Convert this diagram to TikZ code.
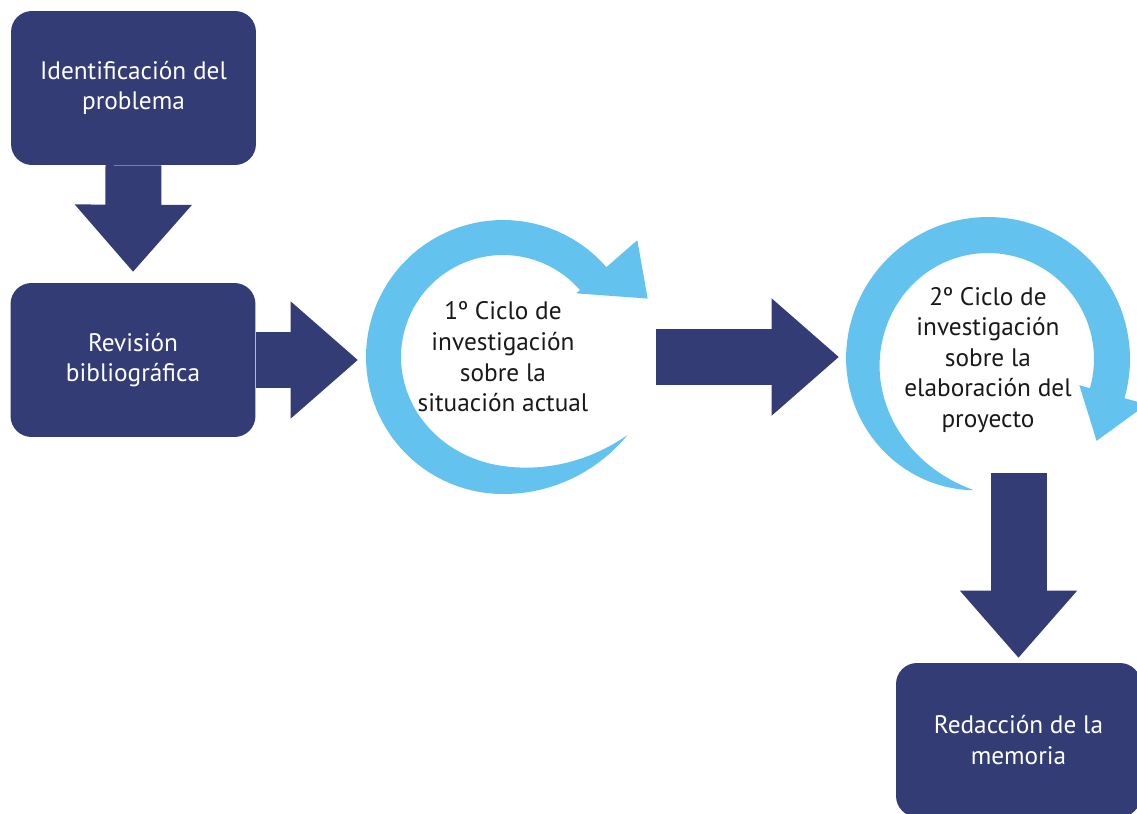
\documentclass[tikz,border=0pt]{standalone}
\usepackage{fontspec}
\setmainfont{PT Sans}
\usetikzlibrary{arrows.meta}
\definecolor{navy}{RGB}{52,60,118}
\definecolor{sky}{RGB}{99,195,238}

\begin{document}
\begin{tikzpicture}[x=0.02cm,y=-0.02cm,
  box/.style={fill=navy,rounded corners=0.42cm,minimum width=4.9cm,minimum height=3.08cm,
    inner sep=0pt,align=center,text=white,font=\fontsize{14.4}{17.4}\selectfont},
  cyc/.style={circle,inner sep=0pt,align=center,text=black!90,font=\fontsize{14.4}{17.4}\selectfont},
  blk/.style={draw=navy,line width=1.12cm,-{Triangle[length=1.34cm,width=2.34cm,line width=0.8pt]}}]
\useasboundingbox (0,0) rectangle (1137,814);
\clip (0,0) rectangle (1137,814);
% ---------- steps ----------
\node[box] (ident) at (133.5,88) {Identificación del\\problema};
\node[box] (revis) at (133,360) {Revisión\\bibliográfica};
\node[cyc,minimum size=5.48cm] (cyc1) at (503,357) {1º Ciclo de\\investigación\\sobre la\\situación actual};
\node[cyc,minimum size=5.68cm] (cyc2) at (988,360) {2º Ciclo de\\investigación\\sobre la\\elaboración del\\proyecto};
\node[box] (memo) at (1018.5,740) {Redacción de la\\memoria};
% ---------- cycle arrows ----------
\begin{scope}[shift={(503,357)}]
  \fill[sky] plot[domain=32:319,samples=90] (\x:{137+10*max(0,1-(\x-32)/60)^2})
    -- (319:178) -- (338:156) -- (319:97)
    -- plot[domain=319:32,samples=90] (\x:{137+10*max(0,1-(\x-32)/60)^2-35*(1-(1-min(\x-32,140)/140)^3)})
    -- cycle;
\end{scope}
\begin{scope}[shift={(988,359)}]
  \fill[sky] plot[domain=96:376,samples=90] (\x:{142-10*max(0,1-(\x-96)/90)^2})
    -- (376:165) -- (37:136) -- (376:95)
    -- plot[domain=376:96,samples=90] (\x:{142-10*max(0,1-(\x-96)/90)^2-36*(1-(1-min(\x-96,140)/140)^3)})
    -- cycle;
\end{scope}
% ---------- block arrows ----------
\coordinate (out2) at (1018.5,473);
\draw[blk,shorten >=0.22cm] (ident.south) -- (revis.north);
\draw[blk,shorten >=0.16cm] (revis.east) -- (revis.east -| cyc1.west);
\draw[blk,shorten <=0.32cm,shorten >=0.14cm] (cyc1.east) -- (cyc1.east -| cyc2.west);
\draw[blk,shorten >=0.1cm] (out2) -- (memo.north);
\end{tikzpicture}
\end{document}
